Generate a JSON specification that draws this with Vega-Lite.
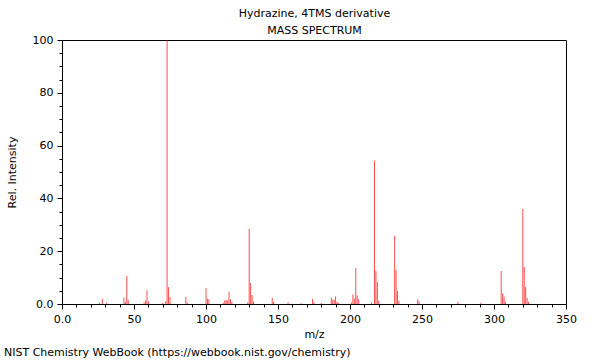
{
  "$schema": "https://vega.github.io/schema/vega-lite/v6.json",
  "autosize": "none",
  "width": 504,
  "height": 264,
  "padding": {"left": 62, "top": 40, "right": 34, "bottom": 56},
  "background": "white",
  "config": {
    "font": "DejaVu Sans",
    "view": {"stroke": null},
    "axis": {
      "grid": false,
      "domainColor": "#000000",
      "tickColor": "#000000",
      "labelColor": "#000000",
      "titleColor": "#000000",
      "labelFont": "DejaVu Sans",
      "titleFont": "DejaVu Sans",
      "labelFontSize": 11,
      "titleFontSize": 11,
      "titleFontWeight": "normal"
    }
  },
  "title": {
    "text": "NIST Chemistry WebBook (https://webbook.nist.gov/chemistry)",
    "orient": "bottom",
    "anchor": "start",
    "frame": "bounds",
    "font": "DejaVu Sans",
    "fontSize": 11,
    "fontWeight": "normal",
    "color": "#000000",
    "offset": 8,
    "dx": -2
  },
  "data": {
    "values": [
      {"mz": 26, "intensity": 0.5},
      {"mz": 28, "intensity": 2.0},
      {"mz": 31, "intensity": 0.5},
      {"mz": 43, "intensity": 2.4},
      {"mz": 44, "intensity": 0.8},
      {"mz": 45, "intensity": 10.6},
      {"mz": 46, "intensity": 1.5},
      {"mz": 57, "intensity": 0.5},
      {"mz": 58, "intensity": 1.3},
      {"mz": 59, "intensity": 5.2},
      {"mz": 60, "intensity": 1.0},
      {"mz": 70, "intensity": 0.4},
      {"mz": 72, "intensity": 1.0},
      {"mz": 73, "intensity": 100},
      {"mz": 74, "intensity": 6.4},
      {"mz": 75, "intensity": 2.5},
      {"mz": 86, "intensity": 2.7},
      {"mz": 87, "intensity": 0.5},
      {"mz": 100, "intensity": 6.0},
      {"mz": 101, "intensity": 2.0},
      {"mz": 102, "intensity": 1.8},
      {"mz": 112, "intensity": 0.5},
      {"mz": 113, "intensity": 1.3},
      {"mz": 114, "intensity": 1.5},
      {"mz": 115, "intensity": 1.3},
      {"mz": 116, "intensity": 4.7},
      {"mz": 117, "intensity": 1.8},
      {"mz": 118, "intensity": 0.7},
      {"mz": 129, "intensity": 0.6},
      {"mz": 130, "intensity": 28.4},
      {"mz": 131, "intensity": 8.0},
      {"mz": 132, "intensity": 3.4},
      {"mz": 133, "intensity": 0.9},
      {"mz": 146, "intensity": 2.4},
      {"mz": 147, "intensity": 0.8},
      {"mz": 157, "intensity": 0.6},
      {"mz": 166, "intensity": 0.3},
      {"mz": 174, "intensity": 1.9},
      {"mz": 175, "intensity": 0.6},
      {"mz": 180, "intensity": 0.4},
      {"mz": 187, "intensity": 2.4},
      {"mz": 188, "intensity": 1.6},
      {"mz": 189, "intensity": 1.6},
      {"mz": 190, "intensity": 2.9},
      {"mz": 191, "intensity": 0.8},
      {"mz": 192, "intensity": 0.4},
      {"mz": 201, "intensity": 0.6},
      {"mz": 202, "intensity": 3.6},
      {"mz": 203, "intensity": 2.0},
      {"mz": 204, "intensity": 13.6},
      {"mz": 205, "intensity": 3.2},
      {"mz": 206, "intensity": 1.8},
      {"mz": 215, "intensity": 0.7},
      {"mz": 217, "intensity": 54.3},
      {"mz": 218, "intensity": 12.6},
      {"mz": 219, "intensity": 8.3},
      {"mz": 220, "intensity": 1.2},
      {"mz": 231, "intensity": 25.8},
      {"mz": 232, "intensity": 12.9},
      {"mz": 233, "intensity": 4.9},
      {"mz": 234, "intensity": 1.2},
      {"mz": 247, "intensity": 1.8},
      {"mz": 248, "intensity": 1.0},
      {"mz": 275, "intensity": 0.8},
      {"mz": 291, "intensity": 0.5},
      {"mz": 305, "intensity": 12.5},
      {"mz": 306, "intensity": 4.0},
      {"mz": 307, "intensity": 2.8},
      {"mz": 308, "intensity": 0.9},
      {"mz": 320, "intensity": 36},
      {"mz": 321, "intensity": 14},
      {"mz": 322, "intensity": 6.4},
      {"mz": 323, "intensity": 2.3},
      {"mz": 324, "intensity": 0.8}
    ]
  },
  "layer": [
    {
      "mark": {"type": "rule", "color": "#ff0000", "strokeWidth": 1, "opacity": 0.7},
      "encoding": {
        "x": {
          "field": "mz",
          "type": "quantitative",
          "scale": {"domain": [0, 350], "nice": false, "zero": false},
          "axis": {
            "orient": "bottom",
            "title": "m/z",
            "values": [0,10,20,30,40,50,60,70,80,90,100,110,120,130,140,150,160,170,180,190,200,210,220,230,240,250,260,270,280,290,300,310,320,330,340,350],
            "labelExpr": "datum.value % 50 === 0 ? (datum.value === 0 ? '0.0' : datum.label) : ''",
            "tickSize": {"condition": {"test": "datum.value % 50 === 0", "value": 5}, "value": 3},
            "labelPadding": 4,
            "titlePadding": 4,
            "labelFlush": false,
            "labelOverlap": false
          }
        },
        "y": {
          "field": "intensity",
          "type": "quantitative",
          "scale": {"domain": [0, 100], "nice": false},
          "axis": {
            "orient": "left",
            "title": "Rel. Intensity",
            "values": [0,5,10,15,20,25,30,35,40,45,50,55,60,65,70,75,80,85,90,95,100],
            "labelExpr": "datum.value % 20 === 0 ? (datum.value === 0 ? '0.0' : datum.label) : ''",
            "tickSize": {"condition": {"test": "datum.value % 20 === 0", "value": 5}, "value": 3},
            "labelPadding": 4,
            "titlePadding": 15,
            "labelFlush": false,
            "labelOverlap": false
          }
        },
        "y2": {"datum": 0}
      }
    },
    {
      "mark": {"type": "point", "opacity": 0},
      "encoding": {
        "x": {
          "field": "mz",
          "type": "quantitative",
          "scale": {"domain": [0, 350], "nice": false, "zero": false},
          "axis": {
            "orient": "top",
            "title": ["Hydrazine, 4TMS derivative", "MASS SPECTRUM"],
            "titleLineHeight": 17,
            "titlePadding": 5,
            "labels": false,
            "ticks": false
          }
        },
        "y": {
          "field": "intensity",
          "type": "quantitative",
          "scale": {"domain": [0, 100], "nice": false},
          "axis": {
            "orient": "right",
            "title": null,
            "labels": false,
            "ticks": false
          }
        }
      }
    }
  ],
  "resolve": {"axis": {"x": "independent", "y": "independent"}}
}
